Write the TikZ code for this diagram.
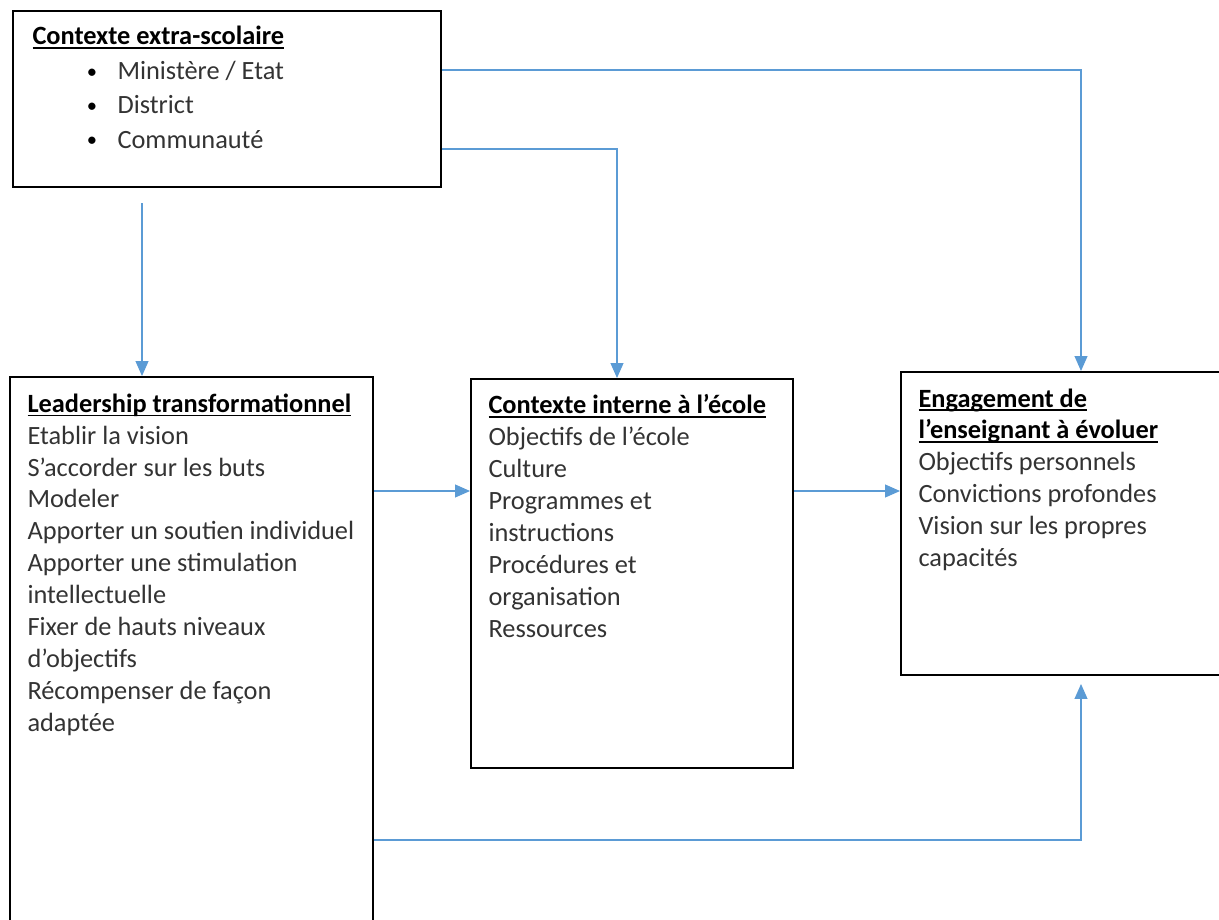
\documentclass[tikz,border=0pt]{standalone}
\usepackage{fontspec}
\setmainfont{Carlito}
\usetikzlibrary{arrows.meta}
\usetikzlibrary{positioning}
\definecolor{linkblue}{HTML}{5B9BD5}
\definecolor{bodygray}{HTML}{333333}
\tikzset{box/.style = {draw, line width = 1pt, rectangle, inner sep = 0}}
\tikzset{link/.style = {linkblue, line width = 1.3pt, -{Triangle[length = 0.3cm, width = 0.25cm]}}}
\tikzset{txt/.style = {anchor = north west, inner sep = 0, align = left, text = bodygray,
    font = \fontsize{15}{18.2}\selectfont}}
\newcommand{\bitem}[1]{\hspace*{31pt}\makebox[17.4pt][l]{\color{black}\raisebox{0.8pt}{\scalebox{0.78}{\textbullet}}}#1}
\newcommand{\heading}[1]{{\color{black}\bfseries\setbox0\hbox{#1}\rlap{\rule[-2.2pt]{\wd0}{0.8pt}}\box0}}

\begin{document}
\begin{tikzpicture}[x = 0.02cm, y = -0.02cm]
      \useasboundingbox (0, 0) rectangle (1219, 919);

      \node [box, minimum width = 8.56cm, minimum height = 3.52cm] (extra) at (227, 99) {};
      \node [box, minimum width = 7.26cm, minimum height = 11.06cm] (lead) at (191.5, 653.5) {};
      \node [box, minimum width = 6.44cm, minimum height = 7.78cm] (inter) at (632, 573.5) {};
      \node [box, minimum width = 6.58cm, minimum height = 6.06cm] (engag) at (1065.5, 523.5) {};

      \node [txt, font = \fontsize{15}{19.6}\selectfont] (extratxt) at ([shift = {(20, 16)}] extra.north west)
        {\heading{Contexte extra-scolaire}\\
         \bitem{Ministère / Etat}\\
         \bitem{District}\\
         \bitem{Communauté}};
      \node [txt] (leadtxt) at ([shift = {(18, 17)}] lead.north west)
        {\heading{Leadership transformationnel}\\
         Etablir la vision\\
         S’accorder sur les buts\\
         Modeler\\
         Apporter un soutien individuel\\
         Apporter une stimulation\\
         intellectuelle\\
         Fixer de hauts niveaux\\
         d’objectifs\\
         Récompenser de façon\\
         adaptée};
      \node [txt] (intertxt) at ([shift = {(18, 16)}] inter.north west)
        {\heading{Contexte interne à l’école}\\
         Objectifs de l’école\\
         Culture\\
         Programmes et\\
         instructions\\
         Procédures et\\
         organisation\\
         Ressources};
      \node [txt] (engagtxt) at ([shift = {(18, 17)}] engag.north west)
        {\heading{Engagement de}\\
         \heading{l’enseignant à évoluer}\\
         Objectifs personnels\\
         Convictions profondes\\
         Vision sur les propres\\
         capacités};

      \coordinate (down) at (142, 203);
      \coordinate (turnA) at (1081, 70);
      \coordinate (turnB) at (617, 149);
      \coordinate (mid) at (0, 491);
      \coordinate (low) at (0, 840);

      \draw [link] (down) -- (down |- lead.north);
      \draw [link] (extra.east |- turnB) -| (turnB |- inter.north);
      \draw [link] (extra.east |- turnA) -| (turnA |- engag.north);
      \draw [link] (lead.east |- mid) -- (inter.west |- mid);
      \draw [link] (inter.east |- mid) -- (engag.west |- mid);
      \draw [link, shorten > = 0.16cm] (lead.east |- low) -| (turnA |- engag.south);
    \end{tikzpicture}
\end{document}
